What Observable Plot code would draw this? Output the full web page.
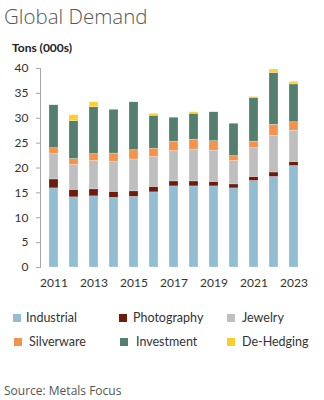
<!DOCTYPE html>
<html>
<head>
<meta charset="utf-8">
<script src="https://cdn.jsdelivr.net/npm/d3@7"></script>
<script src="https://cdn.jsdelivr.net/npm/@observablehq/plot@0.6"></script>
<style>
  html, body { margin: 0; padding: 0; background: #fff; }
  #wrap { position: relative; width: 324px; height: 400px; overflow: hidden; font-family: Lato, "Open Sans", sans-serif; }
  #title { position: absolute; left: 4px; top: 2px; font-family: "Open Sans", sans-serif; font-weight: 300; font-size: 20.5px; color: #555; }
  #unit { position: absolute; left: 12px; top: 40px; font-family: Lato, sans-serif; font-weight: 700; font-size: 12px; color: #222; }
  #chart { position: absolute; left: 0; top: 60px; }
  .lg { position: absolute; font-family: Lato, sans-serif; font-size: 12.5px; color: #333; line-height: 14px; }
  .sw { position: absolute; width: 8px; height: 8px; }
  #source { position: absolute; left: 4px; top: 382px; font-family: "Open Sans", sans-serif; font-size: 12px; color: #555; }
</style>
</head>
<body>
<div id="wrap">
  <div id="title">Global Demand</div>
  <div id="unit">Tons (000s)</div>
  <div id="chart"></div>
  <div id="legend"></div>
  <div id="source">Source: Metals Focus</div>
</div>
<script>
const years = ["2011","2012","2013","2014","2015","2016","2017","2018","2019","2020","2021","2022","2023"];
const seriesNames = ["Industrial","Photography","Jewelry","Silverware","Investment","De-Hedging"];
const seriesColors = ["#92bdd3","#701a0c","#bfbfbf","#f5934a","#547e6d","#fccf2f"];
const industrial  = [15.9,14.1,14.3,14.0,14.2,15.1,16.3,16.3,16.3,15.9,17.4,18.2,20.4];
const photography = [1.8,1.5,1.4,1.2,1.1,1.1,1.0,1.0,0.9,0.8,0.8,0.9,0.8];
const jewelry     = [5.1,5.0,5.7,6.0,6.4,6.0,6.1,6.4,6.3,4.7,5.8,7.4,6.3];
const silverware  = [1.2,1.2,1.4,1.7,1.9,1.7,1.9,2.0,1.9,1.0,1.3,2.2,1.7];
const investment  = [8.6,7.6,9.4,8.8,9.6,6.6,4.8,5.2,5.8,6.5,8.8,10.4,7.6];
const dehedging   = [0,1.2,1.0,0,0,0.4,0,0.3,0,0,0.2,0.7,0.5];
const yTicks = [0,5,10,15,20,25,30,35,40];
const xTickLabels = ["2011","2013","2015","2017","2019","2021","2023"];

const seriesValues = [industrial, photography, jewelry, silverware, investment, dehedging];
const data = [];
years.forEach((y, i) => {
  seriesNames.forEach((s, j) => {
    data.push({year: y, series: s, value: seriesValues[j][i]});
  });
});

const chart = Plot.plot({
  width: 324,
  height: 235,
  marginLeft: 40,
  marginRight: 17,
  marginTop: 8,
  marginBottom: 28,
  style: {fontFamily: "Lato, sans-serif", fontSize: "11.5px", color: "#333", background: "transparent"},
  x: {domain: years, paddingInner: 0.57, paddingOuter: 0.26, label: null},
  y: {domain: [0, 40], label: null},
  color: {domain: seriesNames, range: seriesColors},
  marks: [
    Plot.barY(data, Plot.stackY({
      x: "year", y: "value", fill: "series", order: seriesNames,
      stroke: "#fff", strokeWidth: 0.4, strokeOpacity: 0.6
    })),
    Plot.frame({anchor: "left", stroke: "#a6a6a6", strokeWidth: 1}),
    Plot.axisY({ticks: yTicks, tickSize: 4, tickPadding: 8, stroke: "#a6a6a6", fill: "#333", fontSize: 12, label: null}),
    Plot.axisX({ticks: xTickLabels, tickSize: 0, tickPadding: 11, fill: "#333", fontSize: 12, label: null})
  ]
});
document.getElementById("chart").appendChild(chart);

// legend
const legendPos = [
  {sx: 13, tx: 26, y: 314}, {sx: 119, tx: 133, y: 314}, {sx: 227, tx: 242, y: 314},
  {sx: 14, tx: 29, y: 338}, {sx: 120, tx: 136, y: 338}, {sx: 227, tx: 242, y: 338}
];
const lg = document.getElementById("legend");
seriesNames.forEach((s, i) => {
  const p = legendPos[i];
  const sw = document.createElement("div");
  sw.className = "sw";
  sw.style.left = p.sx + "px"; sw.style.top = p.y + "px"; sw.style.background = seriesColors[i];
  lg.appendChild(sw);
  const t = document.createElement("div");
  t.className = "lg";
  t.style.left = p.tx + "px"; t.style.top = (p.y - 3) + "px";
  t.textContent = s;
  lg.appendChild(t);
});
</script>
</body>
</html>
